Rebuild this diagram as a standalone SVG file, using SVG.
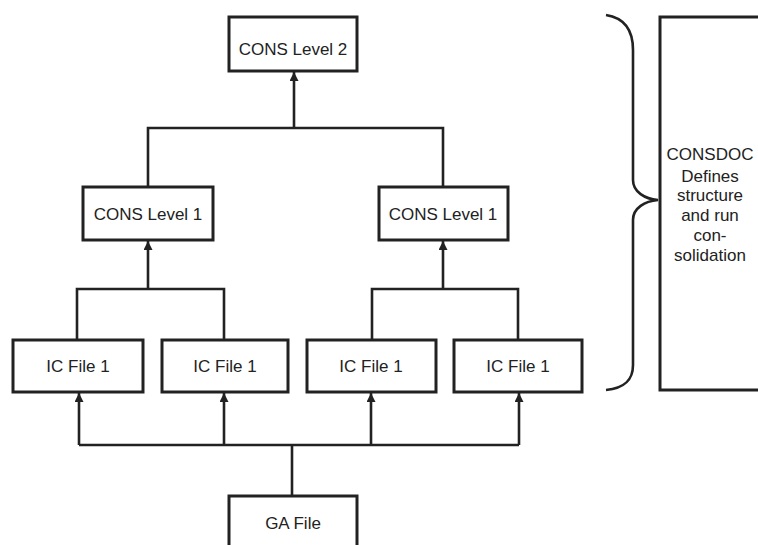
<svg xmlns="http://www.w3.org/2000/svg" width="758" height="545" viewBox="0 0 758 545">
<style>
.box{fill:#fff;stroke:#222;stroke-width:3}
.lbl{font-family:"Liberation Sans",Arial,sans-serif;font-size:17px;fill:#222;text-anchor:middle}
.con{fill:none;stroke:#222;stroke-width:2.6}
</style>
<defs>
<marker id="ah" viewBox="0 0 10 10" refX="10" refY="5" markerWidth="9" markerHeight="9" markerUnits="userSpaceOnUse" orient="auto">
<path d="M0,0 L10,5 L0,10 Z" fill="#222"/>
</marker>
</defs>
<rect width="758" height="545" fill="#fff"/>
<g id="connectors">
<path class="con" d="M292,496 V445"/>
<path class="con" d="M79,445 H519"/>
<path class="con" d="M79,445 V393" marker-end="url(#ah)"/>
<path class="con" d="M224,445 V393" marker-end="url(#ah)"/>
<path class="con" d="M371,445 V393" marker-end="url(#ah)"/>
<path class="con" d="M519,445 V393" marker-end="url(#ah)"/>
<path class="con" d="M77,340 V289 H224 V340"/>
<path class="con" d="M148,289 V241" marker-end="url(#ah)"/>
<path class="con" d="M372,340 V289 H518 V340"/>
<path class="con" d="M443,289 V241" marker-end="url(#ah)"/>
<path class="con" d="M148,187 V128 H443 V187"/>
<path class="con" d="M294,128 V72" marker-end="url(#ah)"/>
</g>
<g id="cons2"><rect class="box" x="229" y="17" width="128" height="54"/><text class="lbl" x="293" y="55">CONS Level 2</text></g>
<g id="cons1a"><rect class="box" x="83" y="187" width="130" height="53"/><text class="lbl" x="148" y="220">CONS Level 1</text></g>
<g id="cons1b"><rect class="box" x="379" y="187" width="129" height="53"/><text class="lbl" x="443" y="220">CONS Level 1</text></g>
<g id="ic1"><rect class="box" x="13" y="340" width="130" height="52"/><text class="lbl" x="78" y="372">IC File 1</text></g>
<g id="ic2"><rect class="box" x="162" y="340" width="126" height="52"/><text class="lbl" x="225" y="372">IC File 1</text></g>
<g id="ic3"><rect class="box" x="307" y="340" width="129" height="52"/><text class="lbl" x="371" y="372">IC File 1</text></g>
<g id="ic4"><rect class="box" x="454" y="340" width="128" height="52"/><text class="lbl" x="518" y="372">IC File 1</text></g>
<g id="ga"><rect class="box" x="229" y="496" width="128" height="60"/><text class="lbl" x="293" y="529">GA File</text></g>
<g id="brace"><path class="con" d="M606,15 C625,18 633,30 633,50 L633,180 C633,192 645,199 658,200 C645,201 633,208 633,220 L633,365 C633,380 625,388 606,390"/></g>
<g id="consdoc">
<rect class="box" x="660" y="17" width="110" height="373"/>
<text class="lbl" x="710"><tspan x="710" y="160">CONSDOC</tspan><tspan x="710" y="182">Defines</tspan><tspan x="710" y="201">structure</tspan><tspan x="710" y="221">and run</tspan><tspan x="710" y="241">con-</tspan><tspan x="710" y="261">solidation</tspan></text>
</g>
</svg>
